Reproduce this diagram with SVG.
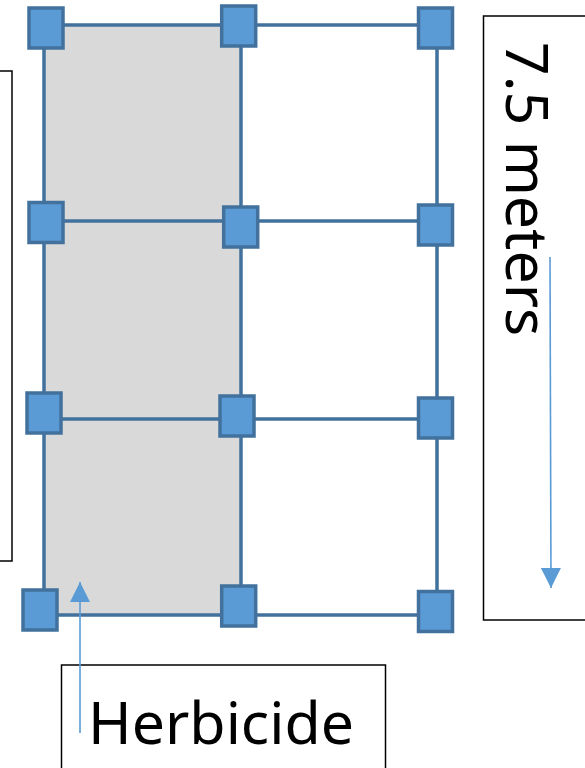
<svg xmlns="http://www.w3.org/2000/svg" width="585" height="768" viewBox="0 0 585 768">
<defs>
<style>
.box{fill:#FFFFFF;stroke:#000000;stroke-width:1.5}
.grid{fill:none;stroke:#41719C;stroke-width:3.5}
.node{fill:#5B9BD5;stroke:#41719C;stroke-width:3.5}
.lbl{font-family:"Noto Sans",sans-serif;font-size:59px;fill:#000000}
.arr{stroke:#5B9BD5;stroke-width:1.6;fill:none}
</style>
<marker id="ah" viewBox="0 0 10 10" refX="10" refY="5" markerWidth="20" markerHeight="20" markerUnits="userSpaceOnUse" orient="auto">
<path d="M0,0 L10,5 L0,10 Z" fill="#5B9BD5"/>
</marker>
</defs>
<rect width="585" height="768" fill="#FFFFFF"/>
<g id="left-box"><rect class="box" x="-20" y="71" width="32" height="490"/></g>
<g id="right-box"><rect class="box" x="483.5" y="16" width="130" height="604"/>
<text class="lbl" transform="translate(506,42) rotate(90)">7.5 meters</text></g>
<g id="herbicide-box"><rect class="box" x="61.5" y="665" width="324" height="130"/>
<text class="lbl" x="88" y="744">Herbicide</text></g>
<g id="grid">
<rect x="44" y="25" width="197" height="590" fill="#D9D9D9"/>
<path class="grid" d="M44,25 H437 M44,221 H437 M44,419 H437 M44,615 H437 M44,25 V615 M241,25 V615 M437,25 V615"/>
</g>
<g id="connectors">
<line class="arr" x1="80" y1="733" x2="80" y2="582" marker-end="url(#ah)"/>
<line class="arr" x1="550" y1="257" x2="551" y2="588" marker-end="url(#ah)"/>
</g>
<g id="nodes">
<g id="n11"><rect class="node" x="29" y="8" width="34" height="40"/></g>
<g id="n12"><rect class="node" x="221.7" y="6" width="34" height="40"/></g>
<g id="n13"><rect class="node" x="418.5" y="8" width="34" height="40"/></g>
<g id="n21"><rect class="node" x="29" y="202.5" width="34" height="40"/></g>
<g id="n22"><rect class="node" x="223.7" y="207" width="34" height="40"/></g>
<g id="n23"><rect class="node" x="418.5" y="205" width="34" height="40"/></g>
<g id="n31"><rect class="node" x="27" y="393" width="34" height="40"/></g>
<g id="n32"><rect class="node" x="220" y="396" width="34" height="40"/></g>
<g id="n33"><rect class="node" x="418.5" y="398" width="34" height="40"/></g>
<g id="n41"><rect class="node" x="23" y="590" width="34" height="40"/></g>
<g id="n42"><rect class="node" x="221.7" y="586" width="34" height="40"/></g>
<g id="n43"><rect class="node" x="418.5" y="591.5" width="34" height="40"/></g>
</g>
</svg>
